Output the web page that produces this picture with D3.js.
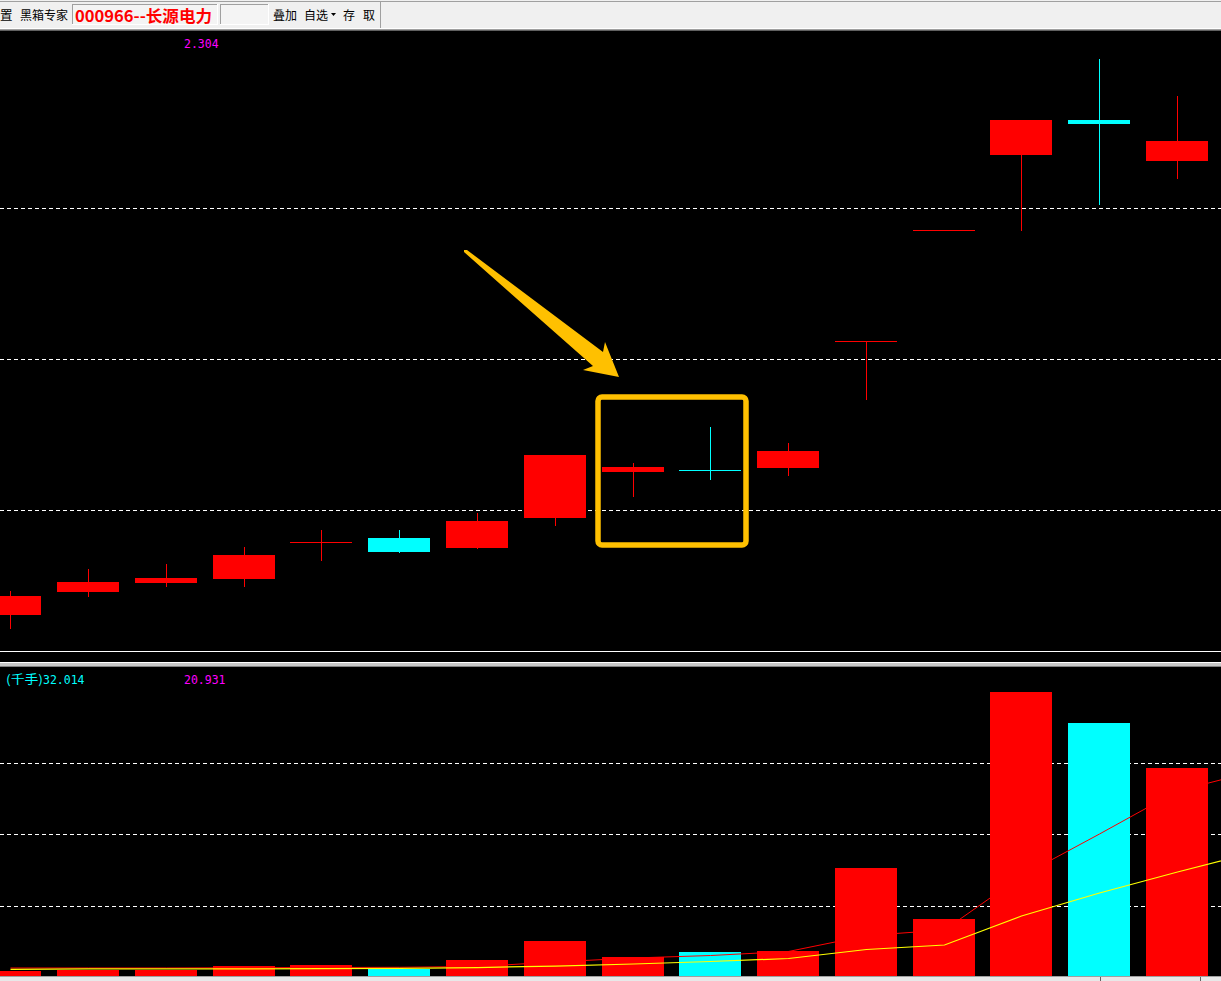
<!DOCTYPE html>
<html><head><meta charset="utf-8">
<script src="https://cdn.jsdelivr.net/npm/d3@7"></script>
<style>html,body{margin:0;padding:0;background:#000;overflow:hidden}svg{display:block}</style>
</head><body><svg id="c" width="1221" height="981"></svg>
<script>
// ---- data ----
const days = ['D01','D02','D03','D04','D05','D06','D07','D08','D09','D10','D11','D12','D13','D14','D15','D16'];
const nextDay = 'D17'; // off-screen slot, only the moving averages reach towards it
const openP  = [3.651,3.725,3.754,3.767,3.890,3.904,3.870,3.972,4.134,4.140,4.149,4.633,5.102,5.445,5.613,5.417];
const highP  = [3.728,3.800,3.817,3.873,3.931,3.931,3.990,4.196,4.167,4.299,4.240,4.633,5.102,5.613,5.919,5.731];
const lowP   = [3.610,3.712,3.744,3.744,3.830,3.857,3.870,3.948,4.049,4.109,4.123,4.405,5.102,5.102,5.218,5.337];
const closeP = [3.712,3.757,3.771,3.847,3.890,3.857,3.962,4.196,4.152,4.138,4.210,4.633,5.102,5.613,5.594,5.512];
const volume = [0.92,1.12,1.12,1.68,1.84,1.23,2.60,5.51,3.06,3.83,3.98,16.69,8.88,43.65,38.90,32.01];
const volMA5  = [1.38,1.38,1.38,1.42,1.45,1.49,1.61,2.30,2.91,3.29,3.91,6.34,7.20,15.47,21.90,28.49,31.55];
const volMA10 = [1.18,1.23,1.23,1.23,1.27,1.33,1.45,1.68,1.99,2.37,2.83,4.21,4.90,9.34,12.86,16.08,19.14];
const priceGrid = [4.0, 4.561, 5.2];
const volGrid = [10.95, 21.9, 32.85];
const priceLabel = '2.304';
const volLabelUnit = '(千手)';
const volLabelValue = '32.014';
const volLabel2 = '20.931';
const stockTitle = '000966--长源电力';
const toolLeft = ['置', '黑箱专家'];
const toolRight = ['叠加', '自选', '存', '取'];

const svg = d3.select('#c');
const W = 1221, H = 981;
const RED = '#ff0000', CYAN = '#00ffff';

svg.append('rect').attr('width', W).attr('height', H).attr('fill', '#000');

// ---- scales ----
const x = d3.scaleBand().domain([...days, nextDay]).range([-28.7, 1293.73])
  .paddingInner(0.203).paddingOuter(0.1015);
const bw = x.bandwidth();
const cx = d => Math.round(x(d)) + Math.round(bw / 2);
const y = d3.scaleLog().domain([4.0, 5.2]).range([510, 208]);
const vy = d3.scaleLinear().domain([0, 43.8]).range([977, 691]);

const candles = days.map((d, i) => ({d, o: openP[i], h: highP[i], l: lowP[i], c: closeP[i], v: volume[i]}));
const colorOf = k => k.c < k.o ? CYAN : RED;

// ---- main panel ----
const main = svg.append('g');
main.append('g').selectAll('line').data(priceGrid).join('line')
  .attr('x1', 0).attr('x2', W)
  .attr('y1', v => Math.round(y(v)) + 0.5).attr('y2', v => Math.round(y(v)) + 0.5)
  .attr('stroke', '#fff').attr('stroke-width', 1).attr('stroke-dasharray', '4,3');

const cg = main.append('g').attr('shape-rendering', 'crispEdges');
cg.selectAll('line').data(candles).join('line')
  .attr('x1', k => cx(k.d) + 0.5).attr('x2', k => cx(k.d) + 0.5)
  .attr('y1', k => Math.round(y(k.h))).attr('y2', k => Math.round(y(k.l)) + 1)
  .attr('stroke', colorOf).attr('stroke-width', 1);
cg.selectAll('rect').data(candles).join('rect')
  .attr('x', k => Math.round(x(k.d))).attr('width', Math.round(bw))
  .attr('y', k => Math.round(Math.min(y(k.o), y(k.c))))
  .attr('height', k => Math.max(1, Math.round(Math.abs(y(k.o) - y(k.c)))))
  .attr('fill', colorOf);

main.append('text').attr('x', 184).attr('y', 48).text(priceLabel)
  .attr('fill', '#ff00ff').attr('font-family', 'DejaVu Sans Mono').attr('font-size', 11.5);

// annotation: arrow and box
main.append('polygon')
  .attr('points', [[464,250],[467,250],[603,352],[605,342],[619,377],[583,370],[593,366],[464,252]].map(p => p.join(',')).join(' '))
  .attr('fill', '#ffc000');
main.append('rect').attr('x', 598).attr('y', 397).attr('width', 148).attr('height', 148)
  .attr('rx', 4).attr('fill', 'none').attr('stroke', '#ffc000').attr('stroke-width', 5.5);

// separators
svg.append('line').attr('x1', 0).attr('x2', W).attr('y1', 651.5).attr('y2', 651.5).attr('stroke', '#fff');
svg.append('rect').attr('x', 0).attr('y', 662).attr('width', W).attr('height', 5).attr('fill', '#c8c8c8');
svg.append('line').attr('x1', 0).attr('x2', W).attr('y1', 662.5).attr('y2', 662.5).attr('stroke', '#fff');
svg.append('line').attr('x1', 0).attr('x2', W).attr('y1', 666.5).attr('y2', 666.5).attr('stroke', '#808080');

// ---- volume panel ----
const vg = svg.append('g');
vg.append('g').selectAll('line').data(volGrid).join('line')
  .attr('x1', 0).attr('x2', W)
  .attr('y1', v => Math.round(vy(v)) + 0.5).attr('y2', v => Math.round(vy(v)) + 0.5)
  .attr('stroke', '#fff').attr('stroke-width', 1).attr('stroke-dasharray', '4,3');
vg.append('g').attr('shape-rendering', 'crispEdges').selectAll('rect').data(candles).join('rect')
  .attr('x', k => Math.round(x(k.d))).attr('width', Math.round(bw))
  .attr('y', k => Math.round(vy(k.v))).attr('height', k => Math.round(vy(0)) - Math.round(vy(k.v)))
  .attr('fill', colorOf);
svg.append('clipPath').attr('id', 'vclip').append('rect').attr('x', 0).attr('y', 667).attr('width', W).attr('height', 309);
const allDays = [...days, nextDay];
const line = d3.line().x((v, i) => cx(allDays[i]) + 0.5).y(v => vy(v));
vg.append('path').attr('d', line(volMA5)).attr('fill', 'none').attr('stroke', RED).attr('stroke-width', 1).attr('clip-path', 'url(#vclip)');
vg.append('path').attr('d', line(volMA10)).attr('fill', 'none').attr('stroke', '#ffff00').attr('stroke-width', 1.2).attr('clip-path', 'url(#vclip)');

vg.append('text').attr('x', 6).attr('y', 684).text(volLabelUnit)
  .attr('fill', CYAN).attr('font-family', 'Noto Sans CJK SC').attr('font-size', 12)
  .attr('textLength', 37).attr('lengthAdjust', 'spacingAndGlyphs');
vg.append('text').attr('x', 43).attr('y', 684).text(volLabelValue)
  .attr('fill', CYAN).attr('font-family', 'DejaVu Sans Mono').attr('font-size', 11.5);
vg.append('text').attr('x', 184).attr('y', 684).text(volLabel2)
  .attr('fill', '#ff00ff').attr('font-family', 'DejaVu Sans Mono').attr('font-size', 11.5);

// bottom strip
svg.append('rect').attr('x', 0).attr('y', 976).attr('width', W).attr('height', 5).attr('fill', '#e8e8e8');
svg.append('line').attr('x1', 0).attr('x2', W).attr('y1', 976.5).attr('y2', 976.5).attr('stroke', '#a0a0a0');
[1100, 1200].forEach(px => svg.append('line').attr('x1', px + 0.5).attr('x2', px + 0.5).attr('y1', 977).attr('y2', 981).attr('stroke', '#606060'));

// ---- toolbar ----
const tb = svg.append('g').attr('shape-rendering', 'crispEdges');
tb.append('rect').attr('x', 0).attr('y', 0).attr('width', W).attr('height', 30).attr('fill', '#f0f0f0');
tb.append('line').attr('x1', 0).attr('x2', W).attr('y1', 1.5).attr('y2', 1.5).attr('stroke', '#a0a0a0');
tb.append('line').attr('x1', 0).attr('x2', W).attr('y1', 28.5).attr('y2', 28.5).attr('stroke', '#ffffff');
tb.append('line').attr('x1', 0).attr('x2', W).attr('y1', 29.5).attr('y2', 29.5).attr('stroke', '#a0a0a0');
tb.append('line').attr('x1', 380.5).attr('x2', 380.5).attr('y1', 1).attr('y2', 28).attr('stroke', '#a0a0a0');
function sunken(x0, y0, w, h) {
  tb.append('rect').attr('x', x0).attr('y', y0).attr('width', w).attr('height', h).attr('fill', '#f4f4f4');
  tb.append('path').attr('d', `M${x0 + 0.5},${y0 + h}V${y0 + 0.5}H${x0 + w}`).attr('fill', 'none').attr('stroke', '#a0a0a0');
  tb.append('path').attr('d', `M${x0 + w - 0.5},${y0}V${y0 + h - 0.5}H${x0}`).attr('fill', 'none').attr('stroke', '#ffffff');
}
sunken(72, 4, 146, 21);
sunken(220, 4, 49, 21);
const tfont = 'Noto Sans CJK SC';
const txt = svg.append('g');
txt.append('text').attr('x', 0).attr('y', 20).text(toolLeft[0]).attr('font-family', tfont).attr('font-size', 12.5).attr('fill', '#000');
txt.append('text').attr('x', 20).attr('y', 20).text(toolLeft[1]).attr('font-family', tfont).attr('font-size', 12).attr('fill', '#000');
txt.append('text').attr('x', 75).attr('y', 21.5).text(stockTitle).attr('font-family', tfont).attr('font-weight', 'bold')
  .attr('font-size', 16).attr('fill', '#ff0000').attr('textLength', 137).attr('lengthAdjust', 'spacingAndGlyphs');
const rx = [273, 304, 343, 363];
toolRight.forEach((t, i) => txt.append('text').attr('x', rx[i]).attr('y', 20).text(t)
  .attr('font-family', tfont).attr('font-size', 12).attr('fill', '#000'));
txt.append('path').attr('d', 'M331,13h5l-2.5,3z').attr('fill', '#000');

// top border of main panel
svg.append('line').attr('x1', 0).attr('x2', W).attr('y1', 30.5).attr('y2', 30.5).attr('stroke', '#606060');
</script></body></html>
